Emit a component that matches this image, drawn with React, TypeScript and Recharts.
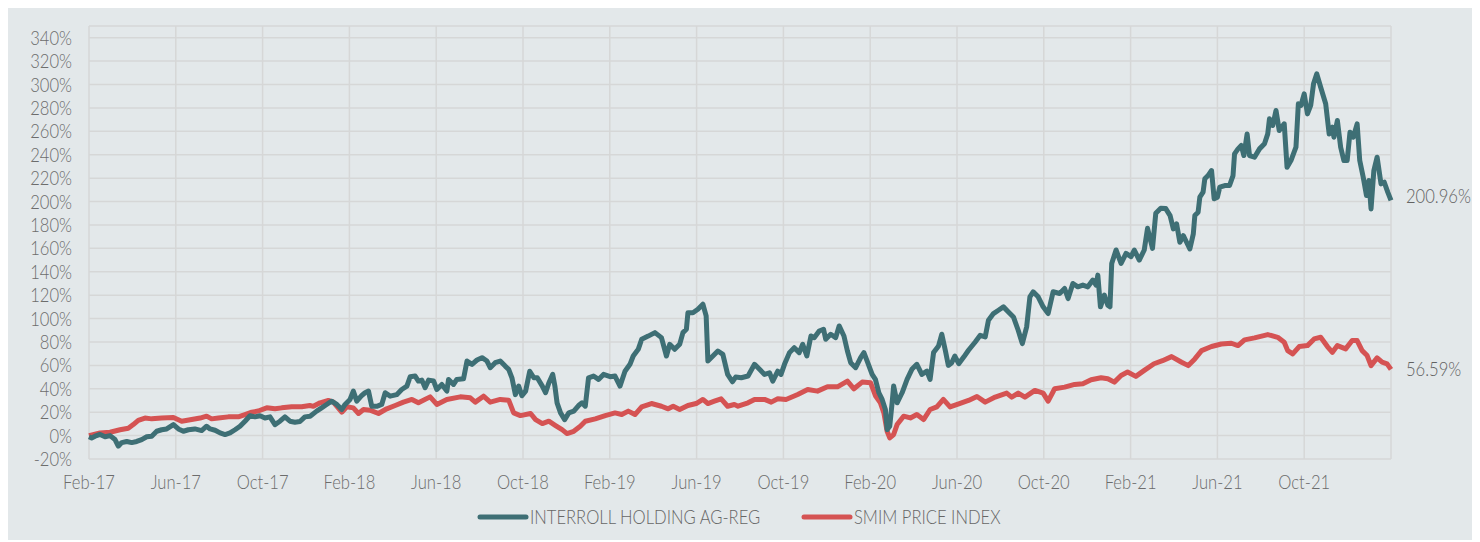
import React from "react";
import { LineChart, Line, XAxis, YAxis, CartesianGrid, Legend } from "recharts";

// month offsets from Feb-17 (0) to end (60)
const tickLabels = [
  "Feb-17", "Jun-17", "Oct-17", "Feb-18", "Jun-18", "Oct-18", "Feb-19", "Jun-19",
  "Oct-19", "Feb-20", "Jun-20", "Oct-20", "Feb-21", "Jun-21", "Oct-21", "",
];
const xTicks = [0, 4, 8, 12, 16, 20, 24, 28, 32, 36, 40, 44, 48, 52, 56, 60];
const yTicks = [-20, 0, 20, 40, 60, 80, 100, 120, 140, 160, 180, 200, 220, 240, 260, 280, 300, 320, 340];

const seriesNames = ["INTERROLL HOLDING AG-REG", "SMIM PRICE INDEX"];

// [month since Feb-17, % performance]
const interrollPoints: [number, number][] = [
  [0, -1], [0.12, -2], [0.28, -0.5], [0.51, 1], [0.74, -1], [0.97, 0], [1.2, -3.4], [1.35, -9], [1.51, -6], [1.74, -5],
  [1.97, -6], [2.2, -5], [2.43, -3.4], [2.66, -1], [2.89, -0.5], [3.12, 3.7], [3.35, 5], [3.58, 5.7], [3.89, 9.4], [4.12, 5.7],
  [4.35, 3.7], [4.58, 5], [4.88, 5.7], [5.19, 4.3], [5.42, 8], [5.58, 5.7], [5.81, 4.6], [6.04, 2.3], [6.27, 0.9], [6.5, 2.3],
  [6.73, 5], [6.96, 8], [7.19, 12.3], [7.42, 17], [7.65, 16], [7.88, 17], [8.11, 15], [8.34, 16], [8.57, 9.4], [8.8, 12.3],
  [9.03, 16], [9.26, 12.3], [9.49, 11.4], [9.72, 12], [9.95, 16], [10.19, 16.6], [10.49, 20.9], [10.72, 23.7], [10.95, 26.6], [11.18, 29.4],
  [11.42, 26.6], [11.65, 22.3], [11.8, 26.6], [12.03, 30.9], [12.18, 38], [12.34, 29.4], [12.57, 34.3], [12.72, 36.6], [12.88, 38], [13.03, 25],
  [13.26, 25], [13.49, 26.6], [13.65, 36.6], [13.88, 33.7], [14.18, 35], [14.41, 39.4], [14.65, 42.3], [14.8, 50.3], [15.03, 50.9], [15.18, 46.6],
  [15.34, 47.4], [15.49, 40.9], [15.65, 47.4], [15.88, 46.6], [16.03, 39.4], [16.26, 43.7], [16.49, 38], [16.57, 48], [16.8, 43.7], [16.95, 48],
  [17.26, 48.6], [17.42, 63.7], [17.65, 60.9], [17.88, 64.6], [18.11, 66.6], [18.34, 63.7], [18.49, 58], [18.72, 62.3], [18.95, 63.7], [19.18, 59.4],
  [19.34, 56.6], [19.49, 49.4], [19.65, 35], [19.8, 42.3], [19.95, 34], [20.12, 38], [20.31, 55], [20.5, 49.4], [20.66, 49.4], [20.89, 42.3],
  [21.04, 36.6], [21.19, 45], [21.37, 52.3], [21.47, 42.3], [21.57, 28], [21.73, 19.4], [21.92, 13.7], [22.11, 19.4], [22.34, 20.9], [22.56, 25.7],
  [22.72, 28], [22.87, 25.1], [23.02, 49.4], [23.25, 50.9], [23.48, 48], [23.71, 52.3], [24.02, 50.3], [24.24, 50.9], [24.47, 42.3], [24.7, 55],
  [24.93, 60.9], [25.08, 68], [25.31, 73.7], [25.47, 82.3], [25.77, 85], [26.08, 88], [26.38, 83.7], [26.61, 68], [26.76, 78], [26.99, 73.7],
  [27.22, 78], [27.37, 88], [27.53, 90.9], [27.6, 105], [27.83, 105], [28.06, 108], [28.29, 112.3], [28.44, 102.3], [28.52, 63.7], [28.75, 68],
  [28.98, 72.3], [29.21, 69.4], [29.43, 52.3], [29.65, 46], [29.8, 50], [30.06, 49.4], [30.37, 50.9], [30.67, 60.9], [30.9, 56.6], [31.13, 52.3],
  [31.36, 53.7], [31.51, 46.6], [31.74, 55.1], [31.89, 52.3], [32.05, 60.9], [32.28, 70.9], [32.5, 75.1], [32.73, 70.9], [32.89, 78], [33.08, 68],
  [33.27, 85.1], [33.42, 83.7], [33.65, 89.4], [33.85, 90.9], [33.95, 82.3], [34.18, 86.6], [34.41, 83.7], [34.57, 93.7], [34.79, 85.1], [34.95, 72.3],
  [35.1, 62.3], [35.33, 58], [35.56, 66.6], [35.71, 70.9], [35.86, 63.7], [36.09, 52.3], [36.24, 48], [36.4, 36.6], [36.55, 30.9], [36.7, 22.3],
  [36.78, 5.1], [36.9, 8], [37.01, 28], [37.08, 42.3], [37.24, 28], [37.47, 36.6], [37.7, 48], [37.92, 56.6], [38.15, 60.9], [38.38, 52.3],
  [38.61, 55.1], [38.76, 48], [38.92, 70.9], [39.15, 76.6], [39.3, 86.6], [39.47, 72], [39.6, 60], [39.75, 62], [39.9, 68], [40.08, 61.4],
  [40.31, 67.1], [40.53, 72.9], [40.84, 80], [41.07, 85.7], [41.3, 84.3], [41.45, 98.6], [41.68, 104.3], [41.91, 107.1], [42.14, 110], [42.37, 105.7],
  [42.6, 101.4], [42.82, 90], [43.01, 78.6], [43.21, 92.9], [43.36, 118.6], [43.51, 122.9], [43.74, 118.6], [43.97, 110], [44.2, 104.3], [44.43, 122.9],
  [44.73, 121.4], [44.96, 125.7], [45.12, 117.1], [45.34, 130], [45.57, 127.1], [45.8, 128.6], [46.03, 127.1], [46.26, 132.9], [46.41, 128.6], [46.49, 137.1],
  [46.61, 110], [46.79, 120], [46.95, 111.4], [47.05, 110], [47.13, 147.1], [47.33, 158.6], [47.56, 147.1], [47.79, 155.7], [48.02, 152.9], [48.17, 158.6],
  [48.4, 150], [48.63, 158.6], [48.78, 177.1], [49.01, 160], [49.16, 190], [49.39, 194.3], [49.62, 194], [49.82, 188], [49.97, 176.6], [50.12, 180.9],
  [50.27, 165.2], [50.43, 170.9], [50.58, 165.2], [50.73, 159.5], [50.89, 172.4], [50.96, 188], [51.11, 190.9], [51.19, 203.7], [51.34, 208], [51.42, 219.4],
  [51.57, 222.2], [51.73, 226.5], [51.85, 202.3], [52.0, 203.7], [52.11, 212.3], [52.34, 213.7], [52.56, 213.7], [52.72, 222.2], [52.79, 240.7], [52.95, 245],
  [53.1, 247.9], [53.22, 239.3], [53.37, 257.8], [53.48, 239.3], [53.71, 237.9], [53.94, 245], [54.17, 249.3], [54.32, 257.8], [54.4, 270.7], [54.55, 265],
  [54.7, 277.8], [54.85, 260.7], [55.08, 266.4], [55.21, 229.3], [55.39, 235], [55.62, 246.4], [55.73, 283.5], [55.85, 282.1], [56.0, 292], [56.15, 274.9],
  [56.3, 282.1], [56.43, 300.6], [56.58, 309.1], [56.76, 297.7], [56.99, 283.5], [57.15, 257.8], [57.3, 263.5], [57.37, 255], [57.53, 269.2], [57.68, 246.4],
  [57.83, 235], [57.98, 235], [58.11, 259.3], [58.26, 255], [58.44, 266.4], [58.56, 235], [58.72, 220.8], [58.87, 205.1], [58.98, 217.9], [59.08, 193.7],
  [59.21, 226.5], [59.36, 237.9], [59.54, 215.1], [59.69, 216.5], [59.85, 208], [60, 200.96],
];

const smimPoints: [number, number][] = [
  [0, 0], [0.51, 2.3], [0.97, 2.9], [1.43, 5], [1.81, 6.3], [2.04, 9.4], [2.27, 13], [2.58, 15], [2.89, 14.3], [3.35, 15],
  [3.89, 15.4], [4.27, 12.3], [4.73, 13.7], [5.12, 15], [5.42, 16.6], [5.65, 14.3], [5.96, 15], [6.42, 16], [6.88, 16], [7.19, 18],
  [7.5, 20], [7.8, 21], [8.19, 23.7], [8.57, 22.9], [8.88, 23.7], [9.34, 24.6], [9.8, 24.6], [10.18, 25.7], [10.34, 25], [10.65, 28],
  [11.03, 30], [11.26, 28.6], [11.65, 20], [11.88, 24.6], [12.18, 23.7], [12.42, 18.9], [12.65, 22.3], [12.95, 21.7], [13.34, 18.9], [13.72, 22.9],
  [14.11, 25.7], [14.49, 28.6], [14.88, 30.9], [15.18, 28], [15.72, 33.1], [16.03, 26.6], [16.49, 30.9], [17.11, 33.1], [17.57, 32.3], [17.8, 28.6],
  [18.18, 33.7], [18.49, 28.6], [18.95, 30.9], [19.34, 30.3], [19.57, 19.4], [19.88, 17.1], [20.35, 18.9], [20.58, 13.7], [20.89, 10.3], [21.19, 12.3],
  [21.5, 8.6], [21.8, 5.1], [22.03, 1.7], [22.34, 3.7], [22.64, 8], [22.87, 12.3], [23.33, 14.3], [23.79, 17.1], [24.24, 19.4], [24.55, 18],
  [24.85, 20.9], [25.16, 18], [25.47, 24.6], [25.92, 27.4], [26.38, 25.1], [26.69, 22.9], [26.92, 25.1], [27.22, 22.3], [27.6, 25.7], [27.98, 27.4],
  [28.29, 30.9], [28.52, 27.4], [28.82, 29.4], [29.13, 31.4], [29.43, 25.1], [29.74, 26.6], [29.91, 25.1], [30.37, 28], [30.67, 30.9], [31.13, 30.9],
  [31.44, 28.6], [31.74, 31.4], [32.12, 30.9], [32.66, 35.1], [33.12, 39.4], [33.57, 38], [34.03, 41.7], [34.49, 41.7], [34.95, 46.6], [35.25, 40],
  [35.63, 45.7], [36.02, 45.1], [36.25, 33.7], [36.47, 28], [36.63, 19.4], [36.78, 3.7], [36.9, -2], [37.08, 0.9], [37.24, 9.4], [37.54, 16.6],
  [37.85, 15.1], [38.15, 18], [38.46, 13.7], [38.76, 22.3], [39.07, 24.6], [39.37, 30.9], [39.68, 24.5], [40.08, 27.1], [40.53, 30], [40.92, 33.4],
  [41.3, 28.6], [41.76, 32.9], [42.29, 36.3], [42.52, 32.9], [42.82, 36.3], [43.13, 32.9], [43.59, 38.6], [43.97, 36.3], [44.2, 29.4], [44.5, 40],
  [44.96, 41.4], [45.42, 43.7], [45.8, 44.3], [46.18, 47.7], [46.64, 49.4], [46.95, 48.6], [47.25, 45.7], [47.56, 51.4], [47.86, 54.3], [48.24, 50.6],
  [48.63, 55.7], [49.08, 61.4], [49.47, 64], [49.89, 67.5], [50.35, 62.7], [50.66, 59.8], [50.96, 65.5], [51.27, 72.6], [51.73, 76.1], [52.18, 78.3],
  [52.64, 78.9], [52.95, 76.9], [53.25, 81.8], [53.71, 83.5], [54.32, 86.3], [54.78, 84], [55.08, 79.8], [55.24, 72.6], [55.47, 69.8], [55.77, 76.1],
  [56.15, 76.9], [56.46, 82.6], [56.76, 84], [57.07, 76.1], [57.3, 71.2], [57.53, 76.9], [57.91, 74.1], [58.21, 81.2], [58.44, 81.2], [58.67, 72.6],
  [58.9, 68.4], [59.08, 59.8], [59.36, 66.4], [59.59, 62.7], [59.82, 61.3], [60, 56.59],
];

const TEAL = "#3e6f75";
const RED = "#d55353";
const BG = "#e3e8ea";
const GRID = "#d6d7d7";
const TEXT = "#6c6c6c";
const FONT = "Lato, 'Noto Sans', sans-serif";
const SX = 0.83;
const FS = 20;

const interrollData = interrollPoints.map(([m, v]) => ({ m, v }));
const smimData = smimPoints.map(([m, v]) => ({ m, v }));

const CText = ({ x, y, anchor, children, fill = TEXT }: any) => (
  <text
    transform={`translate(${x},${y}) scale(${SX},1)`}
    textAnchor={anchor}
    fontFamily={FONT}
    fontWeight={300}
    fontSize={FS}
    fill={fill}
  >
    {children}
  </text>
);

const XTick = (props: any) => {
  const { x, y, payload } = props;
  const idx = xTicks.indexOf(payload.value);
  const label = idx >= 0 ? tickLabels[idx] : "";
  if (!label) return <g />;
  return <CText x={x} y={y + 30} anchor="middle">{label}</CText>;
};

const YTick = (props: any) => {
  const { x, y, payload } = props;
  return <CText x={x} y={y + 7} anchor="end">{`${payload.value}%`}</CText>;
};

const makeEndDot = (n: number, dy: number) => (props: any) => {
  const { cx, cy, index, payload } = props;
  if (index !== n - 1) return <g key={`d${index}`} />;
  return (
    <g key={`d${index}`}>
      <CText x={cx + 15} y={cy + 7 + dy} anchor="start" fill="#626262">
        {`${payload.v.toFixed(2)}%`}
      </CText>
    </g>
  );
};

const legendX = [472, 796];
const renderLegend = (props: any) => {
  const payload = props.payload || [];
  return (
    <svg width={1465} height={30}>
      {payload.map((p: any, i: number) => (
        <g key={i}>
          <line x1={legendX[i]} x2={legendX[i] + 46} y1={14} y2={14} stroke={p.color} strokeWidth={5} strokeLinecap="round" />
          <CText x={legendX[i] + 50} y={21} anchor="start" fill="#666666">{p.value}</CText>
        </g>
      ))}
    </svg>
  );
};

export default function App() {
  return (
    <div style={{ position: "relative", top: -5, width: 1465, height: 537, background: BG }}>
      <LineChart width={1465} height={537} margin={{ top: 23, right: 82, bottom: 51, left: 11 }}>
        <CartesianGrid stroke={GRID} strokeWidth={1.5} />
        <XAxis
          type="number"
          dataKey="m"
          domain={[0, 60]}
          ticks={xTicks}
          interval={0}
          axisLine={false}
          tickLine={false}
          tickSize={0}
          tickMargin={0}
          height={30}
          tick={<XTick />}
        />
        <YAxis
          type="number"
          domain={[-20, 350]}
          ticks={yTicks}
          interval={0}
          axisLine={false}
          tickLine={false}
          tickSize={0}
          tickMargin={17}
          width={70}
          tick={<YTick />}
        />
        <Legend
          layout="horizontal"
          verticalAlign="middle"
          align="center"
          content={renderLegend}
          wrapperStyle={{ top: 500, left: 0, width: 1465, height: 30 }}
        />
        <Line
          data={smimData}
          dataKey="v"
          name={seriesNames[1]}
          stroke={RED}
          strokeWidth={5}
          strokeLinejoin="round"
          dot={makeEndDot(smimData.length, 0)}
          activeDot={false}
          isAnimationActive={false}
          legendType="line"
        />
        <Line
          data={interrollData}
          dataKey="v"
          name={seriesNames[0]}
          stroke={TEAL}
          strokeWidth={5}
          strokeLinejoin="round"
          dot={makeEndDot(interrollData.length, -4)}
          activeDot={false}
          isAnimationActive={false}
          legendType="line"
        />
      </LineChart>
    </div>
  );
}
